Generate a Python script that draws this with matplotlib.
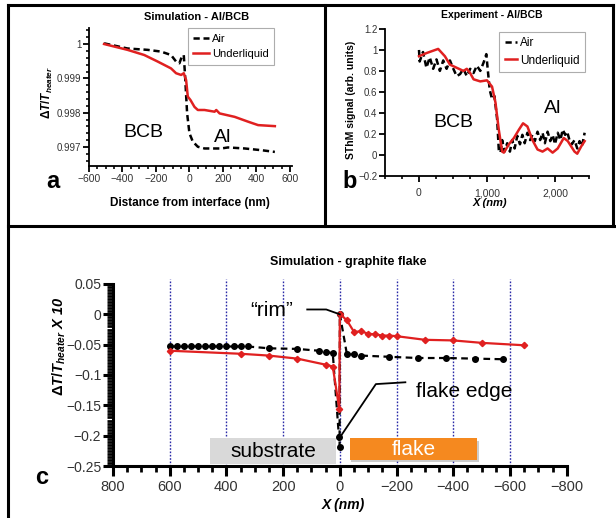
import matplotlib
matplotlib.use("Agg")
import matplotlib.pyplot as plt
from matplotlib.lines import Line2D
from matplotlib.patches import Rectangle
from matplotlib.ticker import MultipleLocator, FuncFormatter

plt.rcParams['font.family'] = ['Liberation Sans', 'DejaVu Sans']
plt.rcParams['mathtext.fontset'] = 'custom'
plt.rcParams['mathtext.rm'] = 'Liberation Sans:bold'
plt.rcParams['mathtext.it'] = 'Liberation Sans:bold:italic'
plt.rcParams['mathtext.bf'] = 'Liberation Sans:bold'
plt.rcParams['axes.unicode_minus'] = True

# ---------------- data: panel a (simulation Al/BCB) ----------------
a_air_x = [-510, -370, -250, -170, -110, -80, -60, -46, -34, -26, -14, 0, 20, 50, 90, 190, 230, 330, 430, 510]
a_air_y = [1.00002, 0.99987, 0.99983, 0.99978, 0.99968, 0.99949, 0.99944, 0.99963, 0.99968, 0.99905,
           0.99798, 0.99740, 0.99716, 0.99701, 0.99696, 0.99696, 0.99699, 0.99696, 0.99691, 0.99686]
a_liq_x = [-510, -370, -270, -190, -170, -110, -80, -50, -34, -20, -10, 6, 30, 50, 90, 150, 160, 180, 270, 350, 410, 510]
a_liq_y = [1.00000, 0.99983, 0.99968, 0.99949, 0.99944, 0.99929, 0.99915, 0.99910, 0.99915, 0.99895, 0.99847,
           0.99837, 0.99817, 0.99808, 0.99808, 0.99803, 0.99808, 0.99798, 0.99788, 0.99774, 0.99764, 0.99761]

# ---------------- data: panel b (experiment Al/BCB) ----------------
b_air_x = [0, 10, 59, 109, 158, 208, 257, 307, 356, 406, 455, 505, 554, 604, 653, 703, 752, 802, 851, 901,
           950, 990, 1010, 1040, 1074, 1109, 1149, 1173, 1198, 1223, 1257, 1297, 1337, 1371, 1406, 1446, 1485,
           1520, 1554, 1594, 1634, 1668, 1703, 1743, 1782, 1817, 1851, 1891, 1931, 1965, 2000, 2040, 2079, 2114,
           2149, 2178, 2213, 2248, 2287, 2327, 2361, 2396, 2436]
b_air_y = [1.00, 0.89, 0.98, 0.83, 0.93, 0.82, 0.91, 0.80, 0.90, 0.82, 0.90, 0.82, 0.75, 0.77, 0.82, 0.75,
           0.82, 0.78, 0.85, 0.80, 0.88, 0.96, 0.82, 0.62, 0.53, 0.56, 0.34, 0.05, 0.02, 0.14, 0.03, 0.11,
           0.03, 0.14, 0.06, 0.18, 0.10, 0.19, 0.11, 0.21, 0.14, 0.19, 0.13, 0.22, 0.14, 0.21, 0.11, 0.22,
           0.13, 0.19, 0.10, 0.21, 0.14, 0.24, 0.19, 0.22, 0.14, 0.10, 0.14, 0.06, 0.13, 0.08, 0.21]
b_liq_x = [0, 109, 282, 381, 455, 554, 653, 703, 752, 802, 901, 1000, 1074, 1124, 1173, 1223, 1248, 1322,
           1396, 1470, 1530, 1594, 1668, 1743, 1817, 1891, 1965, 2040, 2129, 2188, 2287, 2327, 2386, 2436]
b_liq_y = [0.94, 0.97, 1.01, 0.94, 0.86, 0.83, 0.80, 0.82, 0.78, 0.72, 0.70, 0.71, 0.65, 0.50, 0.24, 0.03,
           0.02, 0.10, 0.16, 0.24, 0.30, 0.27, 0.14, 0.05, 0.03, 0.06, 0.02, 0.06, 0.16, 0.13, 0.03, 0.01,
           0.08, 0.13]

# ---------------- data: panel c (simulation graphite flake) ----------------
c_air_x = [600, 575, 550, 525, 500, 475, 450, 425, 400, 375, 350, 325, 250, 150, 75, 50, 25, 3, 1, 0,
           -25, -50, -75, -175, -275, -375, -475, -575]
c_air_y = [-0.053, -0.053, -0.053, -0.053, -0.053, -0.053, -0.053, -0.053, -0.053, -0.053, -0.053, -0.053,
           -0.056, -0.057, -0.060, -0.062, -0.064, -0.203, -0.218, 0.000,
           -0.066, -0.066, -0.068, -0.070, -0.072, -0.072, -0.073, -0.074]
c_liq_x = [600, 350, 250, 150, 50, 25, 2, 0, -25, -50, -75, -100, -125, -150, -175, -200, -300, -400, -500, -650]
c_liq_y = [-0.060, -0.065, -0.068, -0.073, -0.083, -0.086, -0.156, 0.001, -0.010, -0.029, -0.028, -0.032,
           -0.033, -0.035, -0.035, -0.036, -0.042, -0.043, -0.047, -0.051]
c_grid_x = [600, 400, 200, 0, -200, -400, -600]

W, H = 616, 518
fig = plt.figure(figsize=(W / 100, H / 100), dpi=100)


def add_ax(left, top, right, bottom):
    return fig.add_axes([left / W, 1 - bottom / H, (right - left) / W, (bottom - top) / H])


def fline(xs, ys, lw=2.2):
    fig.add_artist(Line2D([x / W for x in xs], [1 - y / H for y in ys], color='black', lw=lw,
                          transform=fig.transFigure))


# panel borders
fline([8, 613], [5, 5])
fline([8, 8], [5, 518])
fline([613, 613], [5, 226])
fline([325, 325], [5, 226])
fline([8, 616], [226, 226])

TICK_COL = '#333333'
gfmt = FuncFormatter(lambda v, p: '{:g}'.format(round(v, 6)).replace('-', '\u2212'))


def style(ax, lw, maj, mino, size):
    for s in ['top', 'right']:
        ax.spines[s].set_visible(False)
    for s in ['left', 'bottom']:
        ax.spines[s].set_linewidth(lw)
    ax.tick_params(which='major', direction='out', length=maj, width=lw, labelsize=size,
                   labelcolor=TICK_COL, pad=1.5)
    ax.tick_params(which='minor', direction='out', length=mino, width=lw * 0.9)
    ax.patch.set_alpha(0)


# ---------------- panel a ----------------
axa = add_ax(89, 28, 291.6, 166)
axa.plot(a_air_x, a_air_y, color='black', ls=(0, (2.5, 1.5)), lw=1.8, label='Air')
axa.plot(a_liq_x, a_liq_y, color='#e02020', lw=1.8, label='Underliquid')
axa.set_xlim(-600, 610)
axa.set_ylim(0.99645, 1.000466)
axa.xaxis.set_major_locator(MultipleLocator(200))
axa.xaxis.set_minor_locator(MultipleLocator(50))
axa.yaxis.set_major_locator(MultipleLocator(0.001))
axa.yaxis.set_minor_locator(MultipleLocator(0.0002))
axa.xaxis.set_major_formatter(gfmt)
axa.yaxis.set_major_formatter(gfmt)
style(axa, 1.3, 4, 2.5, 7)
axa.tick_params(axis='x', labelsize=7.5)
axa.set_xlabel('Distance from interface (nm)', fontsize=8.5, fontweight='bold')
axa.xaxis.set_label_coords(0.5, -0.225)
axa.set_ylabel(r'$\Delta T/T_{heater}$', fontsize=8.5)
axa.yaxis.set_label_coords(-0.168, 0.53)
axa.text(0.533, 1.08, 'Simulation - Al/BCB', transform=axa.transAxes, ha='center', va='center',
         fontsize=8, fontweight='bold')
axa.text(0.267, 0.246, 'BCB', transform=axa.transAxes, ha='center', va='center', fontsize=14)
axa.text(0.661, 0.21, 'Al', transform=axa.transAxes, ha='center', va='center', fontsize=14)
lga = axa.legend(loc='upper right', bbox_to_anchor=(0.915, 1.0), fontsize=8, frameon=True, fancybox=False,
                 handlelength=1.4, handletextpad=0.3, borderpad=0.5, labelspacing=0.5, borderaxespad=0)
lga.get_frame().set_edgecolor('#999999')
lga.get_frame().set_linewidth(0.8)

# ---------------- panel b ----------------
axb = add_ax(385, 29, 589, 175.7)
axb.plot(b_air_x, b_air_y, color='black', ls=(0, (2.5, 1.5)), lw=1.8, label='Air')
axb.plot(b_liq_x, b_liq_y, color='#e02020', lw=1.8, label='Underliquid')
axb.set_xlim(-500, 2500)
axb.set_ylim(-0.2, 1.2)
axb.xaxis.set_major_locator(MultipleLocator(1000))
axb.xaxis.set_minor_locator(MultipleLocator(250))
axb.yaxis.set_major_locator(MultipleLocator(0.2))
axb.xaxis.set_major_formatter(FuncFormatter(lambda v, p: '{:,.0f}'.format(v)))
axb.yaxis.set_major_formatter(gfmt)
style(axb, 1.3, 4, 2.5, 7)
axb.tick_params(axis='x', which='major', pad=5, labelsize=7.5)
axb.set_xlabel('X (nm)', fontsize=8, fontweight='bold', fontstyle='italic')
axb.xaxis.set_label_coords(0.515, -0.155)
axb.set_ylabel('SThM signal (arb. units)', fontsize=7.5, fontweight='bold')
axb.yaxis.set_label_coords(-0.14, 0.52)
axb.text(0.525, 1.095, 'Experiment - Al/BCB', transform=axb.transAxes, ha='center', va='center',
         fontsize=7.5, fontweight='bold')
axb.text(0.333, 0.36, 'BCB', transform=axb.transAxes, ha='center', va='center', fontsize=14)
axb.text(0.824, 0.46, 'Al', transform=axb.transAxes, ha='center', va='center', fontsize=14)
lgb = axb.legend(loc='upper right', bbox_to_anchor=(0.98, 0.98), fontsize=8.5, frameon=True, fancybox=False,
                 handlelength=1.0, handletextpad=0.3, borderpad=0.45, labelspacing=0.45, borderaxespad=0)
lgb.get_frame().set_edgecolor('#999999')
lgb.get_frame().set_linewidth(0.8)

# ---------------- panel c ----------------
axc = add_ax(113, 284, 566.7, 466)
for gx in c_grid_x:
    axc.axvline(gx, ymin=0, ymax=1.03, color='#2a2aa8', ls=(0, (1.2, 1.2)), lw=1.0, clip_on=False, zorder=1)
axc.plot(c_air_x, c_air_y, color='black', ls=(0, (3, 2)), lw=1.6, marker='o', ms=4, zorder=3)
axc.plot(c_liq_x, c_liq_y, color='#e02020', lw=1.6, marker='D', ms=3.2, zorder=4)
axc.set_xlim(800, -800)
axc.set_ylim(-0.25, 0.05)
axc.xaxis.set_major_locator(MultipleLocator(200))
axc.xaxis.set_minor_locator(MultipleLocator(50))
axc.yaxis.set_major_locator(MultipleLocator(0.05))
axc.yaxis.set_minor_locator(MultipleLocator(0.005))
axc.xaxis.set_major_formatter(gfmt)
axc.yaxis.set_major_formatter(gfmt)
style(axc, 2.2, 7, 4.5, 10)
axc.tick_params(axis='x', which='major', pad=3, labelsize=10.5)
axc.set_xlabel('X (nm)', fontsize=10, fontweight='bold', fontstyle='italic')
axc.xaxis.set_label_coords(0.507, -0.175)
axc.set_ylabel(r'$\Delta T/T_{heater}$ X 10', fontsize=10.5, fontweight='bold', fontstyle='italic')
axc.yaxis.set_label_coords(-0.1, 0.66)
axc.text(0.518, 1.12, 'Simulation - graphite flake', transform=axc.transAxes, ha='center', va='center',
         fontsize=9, fontweight='bold')

# substrate / flake boxes
axc.add_patch(Rectangle((458, -0.247), 13 - 458, 0.043, facecolor='#d9d9d9', edgecolor='none',
                        zorder=2, clip_on=False))
axc.text(235, -0.2255, 'substrate', ha='center', va='center', fontsize=15, zorder=5)
axc.add_patch(Rectangle((-40, -0.244), -450, 0.036, facecolor='#9a9a9a', edgecolor='none', alpha=0.5,
                        zorder=2, clip_on=False))
axc.add_patch(Rectangle((-35, -0.240), -450, 0.036, facecolor='#f5891f', edgecolor='none', zorder=2,
                        clip_on=False))
axc.text(-260, -0.222, 'flake', ha='center', va='center', fontsize=15, color='white', zorder=5)

# annotations
axc.text(240, 0.006, '\u201crim\u201d', ha='center', va='center', fontsize=15)
axc.plot([115, 48, 0], [0.008, 0.008, 0.0], color='black', lw=1.3, zorder=5)
axc.text(-439, -0.128, 'flake edge', ha='center', va='center', fontsize=15)
axc.plot([-231, -127, 0], [-0.112, -0.115, -0.203], color='black', lw=1.3, zorder=5)

# panel letters
fig.text(53 / W, 1 - 182 / H, 'a', fontsize=17, fontweight='bold', ha='center', va='center')
fig.text(350 / W, 1 - 181 / H, 'b', fontsize=17, fontweight='bold', ha='center', va='center')
fig.text(42 / W, 1 - 478 / H, 'c', fontsize=17, fontweight='bold', ha='center', va='center')

fig.savefig('out.png', dpi=100)
